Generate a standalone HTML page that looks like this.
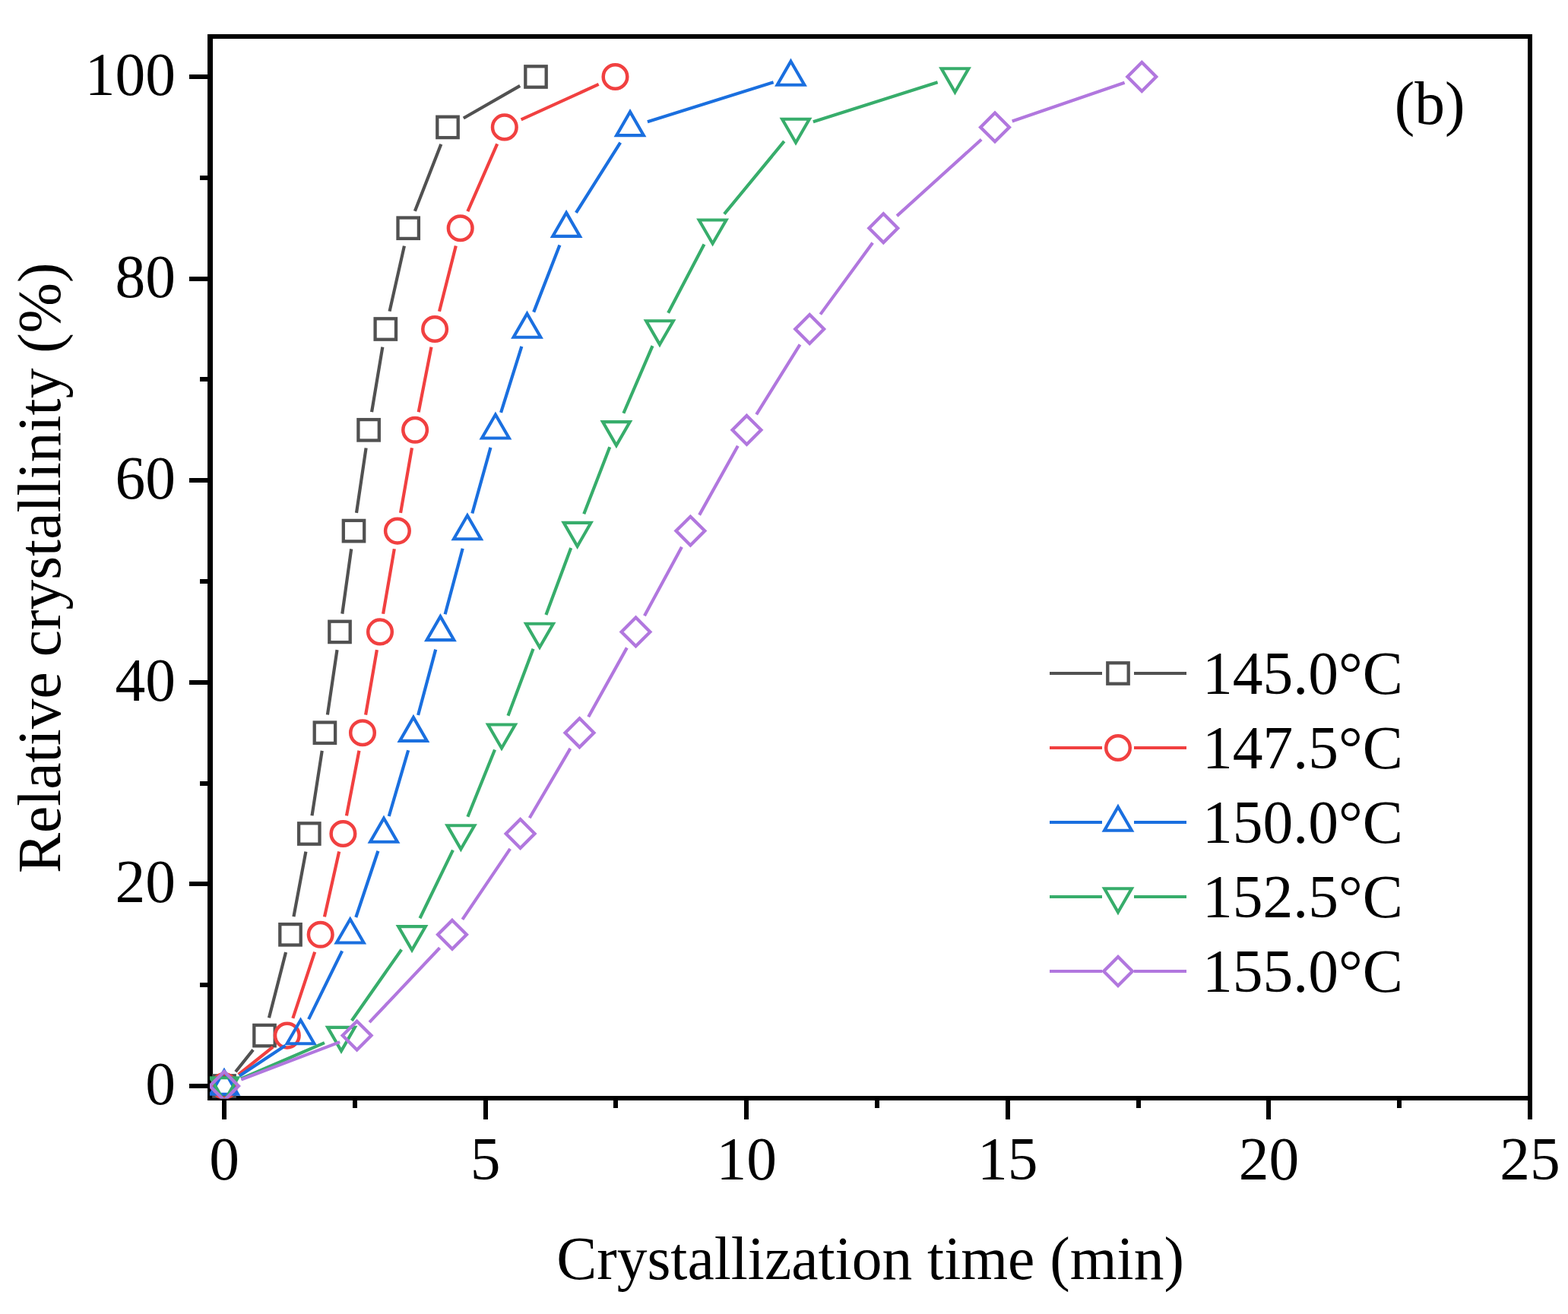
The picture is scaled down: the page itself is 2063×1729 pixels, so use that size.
<!DOCTYPE html>
<html><head><meta charset="utf-8"><title>Relative crystallinity vs crystallization time</title>
<style>
html,body{margin:0;padding:0;background:#fff;}
body{width:2063px;height:1729px;overflow:hidden;}
svg{display:block;}
text{font-family:"Liberation Serif","Times New Roman",serif;font-size:79.5px;fill:#000;}
</style></head><body>
<svg width="2063" height="1729" viewBox="0 0 2063 1729">
<rect width="2063" height="1729" fill="#fff"/>
<path d="M273 45H2016V51H273ZM273 1442H2016V1448H273ZM273 45H280V1448H273ZM2010 45H2016V1448H2010ZM249 1426H273V1432H249ZM263 1293H273V1299H263ZM249 1160H273V1166H249ZM263 1028H273V1034H263ZM249 895H273V901H249ZM263 762H273V768H263ZM249 629H273V635H249ZM263 496H273V502H263ZM249 364H273V370H249ZM263 231H273V237H263ZM249 98H273V104H249ZM292 1448H298V1473H292ZM464 1448H470V1458H464ZM636 1448H642V1473H636ZM807 1448H813V1458H807ZM979 1448H985V1473H979ZM1151 1448H1157V1458H1151ZM1323 1448H1329V1473H1323ZM1495 1448H1501V1458H1495ZM1666 1448H1672V1473H1666ZM1838 1448H1844V1458H1838ZM2010 1448H2016V1473H2010Z" fill="#000"/>
<defs><clipPath id="pc"><rect x="276" y="0" width="1760" height="1445.5"/></clipPath></defs><g clip-path="url(#pc)">
<path d="M309.97 1410.24L333.03 1381.36M353.95 1339.35L376.05 1253.05M386.41 1206.21L402.39 1120.59M410.48 1073.28L423.72 987.92M430.90 940.46L443.50 855.14M450.31 807.63L462.19 722.37M469.00 674.86L481.60 589.54M489.06 542.13L503.34 456.67M512.57 409.59L531.93 323.61M545.92 277.84L580.28 189.76M609.83 155.48L684.17 112.92" fill="none" stroke="#515151" stroke-width="4.2"/>
<g><rect x="281.30" y="1415.30" width="27.40" height="27.40" fill="none" stroke="#515151" stroke-width="4.3" stroke-linejoin="miter"/><rect x="334.30" y="1348.90" width="27.40" height="27.40" fill="none" stroke="#515151" stroke-width="4.3" stroke-linejoin="miter"/><rect x="368.30" y="1216.10" width="27.40" height="27.40" fill="none" stroke="#515151" stroke-width="4.3" stroke-linejoin="miter"/><rect x="393.10" y="1083.30" width="27.40" height="27.40" fill="none" stroke="#515151" stroke-width="4.3" stroke-linejoin="miter"/><rect x="413.70" y="950.50" width="27.40" height="27.40" fill="none" stroke="#515151" stroke-width="4.3" stroke-linejoin="miter"/><rect x="433.30" y="817.70" width="27.40" height="27.40" fill="none" stroke="#515151" stroke-width="4.3" stroke-linejoin="miter"/><rect x="451.80" y="684.90" width="27.40" height="27.40" fill="none" stroke="#515151" stroke-width="4.3" stroke-linejoin="miter"/><rect x="471.40" y="552.10" width="27.40" height="27.40" fill="none" stroke="#515151" stroke-width="4.3" stroke-linejoin="miter"/><rect x="493.60" y="419.30" width="27.40" height="27.40" fill="none" stroke="#515151" stroke-width="4.3" stroke-linejoin="miter"/><rect x="523.50" y="286.50" width="27.40" height="27.40" fill="none" stroke="#515151" stroke-width="4.3" stroke-linejoin="miter"/><rect x="575.30" y="153.70" width="27.40" height="27.40" fill="none" stroke="#515151" stroke-width="4.3" stroke-linejoin="miter"/><rect x="691.30" y="87.30" width="27.40" height="27.40" fill="none" stroke="#515151" stroke-width="4.3" stroke-linejoin="miter"/></g>
<path d="M313.72 1413.99L359.08 1377.61M385.33 1339.81L414.17 1252.59M426.94 1206.38L446.16 1120.42M455.94 1073.43L472.46 987.77M481.10 940.55L495.90 855.05M504.08 807.75L518.82 722.25M527.03 674.96L541.97 589.44M550.71 542.25L567.49 456.55M577.99 409.73L599.81 323.47M615.32 278.21L654.18 189.39M685.64 157.45L787.66 110.95" fill="none" stroke="#F14040" stroke-width="4.2"/>
<g><circle cx="295.00" cy="1429.00" r="15.8" fill="none" stroke="#F14040" stroke-width="4.5"/><circle cx="377.80" cy="1362.60" r="15.8" fill="none" stroke="#F14040" stroke-width="4.5"/><circle cx="421.70" cy="1229.80" r="15.8" fill="none" stroke="#F14040" stroke-width="4.5"/><circle cx="451.40" cy="1097.00" r="15.8" fill="none" stroke="#F14040" stroke-width="4.5"/><circle cx="477.00" cy="964.20" r="15.8" fill="none" stroke="#F14040" stroke-width="4.5"/><circle cx="500.00" cy="831.40" r="15.8" fill="none" stroke="#F14040" stroke-width="4.5"/><circle cx="522.90" cy="698.60" r="15.8" fill="none" stroke="#F14040" stroke-width="4.5"/><circle cx="546.10" cy="565.80" r="15.8" fill="none" stroke="#F14040" stroke-width="4.5"/><circle cx="572.10" cy="433.00" r="15.8" fill="none" stroke="#F14040" stroke-width="4.5"/><circle cx="605.70" cy="300.20" r="15.8" fill="none" stroke="#F14040" stroke-width="4.5"/><circle cx="663.80" cy="167.40" r="15.8" fill="none" stroke="#F14040" stroke-width="4.5"/><circle cx="809.50" cy="101.00" r="15.8" fill="none" stroke="#F14040" stroke-width="4.5"/></g>
<path d="M315.02 1415.77L375.48 1375.83M406.08 1341.06L450.12 1251.34M468.29 1207.03L497.41 1119.77M511.75 1073.97L537.15 987.23M550.10 941.01L573.20 854.59M585.60 808.21L608.70 721.79M621.34 675.48L645.46 588.92M659.07 542.90L686.33 455.90M702.19 410.63L736.41 322.57M757.92 279.91L816.18 187.69M851.90 160.21L1017.60 108.19" fill="none" stroke="#1A6FDF" stroke-width="4.2"/>
<g><path d="M295.00 1408.70L312.90 1439.70L277.10 1439.70Z" fill="none" stroke="#1A6FDF" stroke-width="4.1" stroke-linejoin="miter" stroke-miterlimit="3"/><path d="M395.50 1342.30L413.40 1373.30L377.60 1373.30Z" fill="none" stroke="#1A6FDF" stroke-width="4.1" stroke-linejoin="miter" stroke-miterlimit="3"/><path d="M460.70 1209.50L478.60 1240.50L442.80 1240.50Z" fill="none" stroke="#1A6FDF" stroke-width="4.1" stroke-linejoin="miter" stroke-miterlimit="3"/><path d="M505.00 1076.70L522.90 1107.70L487.10 1107.70Z" fill="none" stroke="#1A6FDF" stroke-width="4.1" stroke-linejoin="miter" stroke-miterlimit="3"/><path d="M543.90 943.90L561.80 974.90L526.00 974.90Z" fill="none" stroke="#1A6FDF" stroke-width="4.1" stroke-linejoin="miter" stroke-miterlimit="3"/><path d="M579.40 811.10L597.30 842.10L561.50 842.10Z" fill="none" stroke="#1A6FDF" stroke-width="4.1" stroke-linejoin="miter" stroke-miterlimit="3"/><path d="M614.90 678.30L632.80 709.30L597.00 709.30Z" fill="none" stroke="#1A6FDF" stroke-width="4.1" stroke-linejoin="miter" stroke-miterlimit="3"/><path d="M651.90 545.50L669.80 576.50L634.00 576.50Z" fill="none" stroke="#1A6FDF" stroke-width="4.1" stroke-linejoin="miter" stroke-miterlimit="3"/><path d="M693.50 412.70L711.40 443.70L675.60 443.70Z" fill="none" stroke="#1A6FDF" stroke-width="4.1" stroke-linejoin="miter" stroke-miterlimit="3"/><path d="M745.10 279.90L763.00 310.90L727.20 310.90Z" fill="none" stroke="#1A6FDF" stroke-width="4.1" stroke-linejoin="miter" stroke-miterlimit="3"/><path d="M829.00 147.10L846.90 178.10L811.10 178.10Z" fill="none" stroke="#1A6FDF" stroke-width="4.1" stroke-linejoin="miter" stroke-miterlimit="3"/><path d="M1040.50 80.70L1058.40 111.70L1022.60 111.70Z" fill="none" stroke="#1A6FDF" stroke-width="4.1" stroke-linejoin="miter" stroke-miterlimit="3"/></g>
<path d="M317.04 1419.50L426.96 1372.10M462.77 1342.94L528.23 1249.46M552.47 1208.21L595.93 1118.59M615.38 1074.74L651.02 986.46M668.46 941.74L701.54 853.86M718.40 808.92L751.20 721.08M768.25 676.21L802.25 588.19M820.38 543.75L858.52 455.05M879.14 411.74L926.46 321.46M952.86 281.68L1031.74 185.92M1069.88 160.15L1233.62 108.25" fill="none" stroke="#37AD6B" stroke-width="4.2"/>
<g><path d="M295.00 1449.30L312.90 1418.30L277.10 1418.30Z" fill="none" stroke="#37AD6B" stroke-width="4.1" stroke-linejoin="miter" stroke-miterlimit="3"/><path d="M449.00 1382.90L466.90 1351.90L431.10 1351.90Z" fill="none" stroke="#37AD6B" stroke-width="4.1" stroke-linejoin="miter" stroke-miterlimit="3"/><path d="M542.00 1250.10L559.90 1219.10L524.10 1219.10Z" fill="none" stroke="#37AD6B" stroke-width="4.1" stroke-linejoin="miter" stroke-miterlimit="3"/><path d="M606.40 1117.30L624.30 1086.30L588.50 1086.30Z" fill="none" stroke="#37AD6B" stroke-width="4.1" stroke-linejoin="miter" stroke-miterlimit="3"/><path d="M660.00 984.50L677.90 953.50L642.10 953.50Z" fill="none" stroke="#37AD6B" stroke-width="4.1" stroke-linejoin="miter" stroke-miterlimit="3"/><path d="M710.00 851.70L727.90 820.70L692.10 820.70Z" fill="none" stroke="#37AD6B" stroke-width="4.1" stroke-linejoin="miter" stroke-miterlimit="3"/><path d="M759.60 718.90L777.50 687.90L741.70 687.90Z" fill="none" stroke="#37AD6B" stroke-width="4.1" stroke-linejoin="miter" stroke-miterlimit="3"/><path d="M810.90 586.10L828.80 555.10L793.00 555.10Z" fill="none" stroke="#37AD6B" stroke-width="4.1" stroke-linejoin="miter" stroke-miterlimit="3"/><path d="M868.00 453.30L885.90 422.30L850.10 422.30Z" fill="none" stroke="#37AD6B" stroke-width="4.1" stroke-linejoin="miter" stroke-miterlimit="3"/><path d="M937.60 320.50L955.50 289.50L919.70 289.50Z" fill="none" stroke="#37AD6B" stroke-width="4.1" stroke-linejoin="miter" stroke-miterlimit="3"/><path d="M1047.00 187.70L1064.90 156.70L1029.10 156.70Z" fill="none" stroke="#37AD6B" stroke-width="4.1" stroke-linejoin="miter" stroke-miterlimit="3"/><path d="M1256.50 121.30L1274.40 90.30L1238.60 90.30Z" fill="none" stroke="#37AD6B" stroke-width="4.1" stroke-linejoin="miter" stroke-miterlimit="3"/></g>
<path d="M317.43 1420.47L447.17 1371.13M486.08 1345.15L578.52 1247.25M608.42 1209.90L671.18 1116.90M696.74 1076.30L750.36 984.90M774.18 943.24L824.82 852.36M847.93 810.29L896.97 719.71M920.09 677.64L970.81 586.76M995.19 545.43L1052.51 453.37M1079.37 413.63L1148.13 319.57M1180.09 284.09L1291.21 183.51M1331.70 159.60L1479.60 108.80" fill="none" stroke="#B177DE" stroke-width="4.2"/>
<g><path d="M295.00 1410.10L313.90 1429.00L295.00 1447.90L276.10 1429.00Z" fill="none" stroke="#B177DE" stroke-width="4.3" stroke-linejoin="miter" stroke-miterlimit="3"/><path d="M469.60 1343.70L488.50 1362.60L469.60 1381.50L450.70 1362.60Z" fill="none" stroke="#B177DE" stroke-width="4.3" stroke-linejoin="miter" stroke-miterlimit="3"/><path d="M595.00 1210.90L613.90 1229.80L595.00 1248.70L576.10 1229.80Z" fill="none" stroke="#B177DE" stroke-width="4.3" stroke-linejoin="miter" stroke-miterlimit="3"/><path d="M684.60 1078.10L703.50 1097.00L684.60 1115.90L665.70 1097.00Z" fill="none" stroke="#B177DE" stroke-width="4.3" stroke-linejoin="miter" stroke-miterlimit="3"/><path d="M762.50 945.30L781.40 964.20L762.50 983.10L743.60 964.20Z" fill="none" stroke="#B177DE" stroke-width="4.3" stroke-linejoin="miter" stroke-miterlimit="3"/><path d="M836.50 812.50L855.40 831.40L836.50 850.30L817.60 831.40Z" fill="none" stroke="#B177DE" stroke-width="4.3" stroke-linejoin="miter" stroke-miterlimit="3"/><path d="M908.40 679.70L927.30 698.60L908.40 717.50L889.50 698.60Z" fill="none" stroke="#B177DE" stroke-width="4.3" stroke-linejoin="miter" stroke-miterlimit="3"/><path d="M982.50 546.90L1001.40 565.80L982.50 584.70L963.60 565.80Z" fill="none" stroke="#B177DE" stroke-width="4.3" stroke-linejoin="miter" stroke-miterlimit="3"/><path d="M1065.20 414.10L1084.10 433.00L1065.20 451.90L1046.30 433.00Z" fill="none" stroke="#B177DE" stroke-width="4.3" stroke-linejoin="miter" stroke-miterlimit="3"/><path d="M1162.30 281.30L1181.20 300.20L1162.30 319.10L1143.40 300.20Z" fill="none" stroke="#B177DE" stroke-width="4.3" stroke-linejoin="miter" stroke-miterlimit="3"/><path d="M1309.00 148.50L1327.90 167.40L1309.00 186.30L1290.10 167.40Z" fill="none" stroke="#B177DE" stroke-width="4.3" stroke-linejoin="miter" stroke-miterlimit="3"/><path d="M1502.30 82.10L1521.20 101.00L1502.30 119.90L1483.40 101.00Z" fill="none" stroke="#B177DE" stroke-width="4.3" stroke-linejoin="miter" stroke-miterlimit="3"/></g>
</g>
<text x="231" y="1453.0" text-anchor="end">0</text>
<text x="231" y="1187.4" text-anchor="end">20</text>
<text x="231" y="921.8" text-anchor="end">40</text>
<text x="231" y="656.2" text-anchor="end">60</text>
<text x="231" y="390.6" text-anchor="end">80</text>
<text x="231" y="125.0" text-anchor="end">100</text>
<text x="295.00" y="1552" text-anchor="middle">0</text>
<text x="638.60" y="1552" text-anchor="middle">5</text>
<text x="982.20" y="1552" text-anchor="middle">10</text>
<text x="1325.80" y="1552" text-anchor="middle">15</text>
<text x="1669.40" y="1552" text-anchor="middle">20</text>
<text x="2013.00" y="1552" text-anchor="middle">25</text>
<text x="1145" y="1683" text-anchor="middle">Crystallization time (min)</text>
<text transform="translate(79 747.3) rotate(-90)" text-anchor="middle">Relative crystallinity (%)</text>
<text x="1834.8" y="162.5">(b)</text>
<path d="M1381 886H1450M1492 886H1561" stroke="#515151" stroke-width="4.2" fill="none"/>
<rect x="1457.30" y="872.30" width="27.40" height="27.40" fill="none" stroke="#515151" stroke-width="4.3" stroke-linejoin="miter"/>
<text x="1582" y="913">145.0°C</text>
<path d="M1381 984H1450M1492 984H1561" stroke="#F14040" stroke-width="4.2" fill="none"/>
<circle cx="1471.00" cy="984.00" r="15.8" fill="none" stroke="#F14040" stroke-width="4.5"/>
<text x="1582" y="1011">147.5°C</text>
<path d="M1381 1082H1450M1492 1082H1561" stroke="#1A6FDF" stroke-width="4.2" fill="none"/>
<path d="M1471.00 1061.70L1488.90 1092.70L1453.10 1092.70Z" fill="none" stroke="#1A6FDF" stroke-width="4.1" stroke-linejoin="miter" stroke-miterlimit="3"/>
<text x="1582" y="1109">150.0°C</text>
<path d="M1381 1180H1450M1492 1180H1561" stroke="#37AD6B" stroke-width="4.2" fill="none"/>
<path d="M1471.00 1200.30L1488.90 1169.30L1453.10 1169.30Z" fill="none" stroke="#37AD6B" stroke-width="4.1" stroke-linejoin="miter" stroke-miterlimit="3"/>
<text x="1582" y="1207">152.5°C</text>
<path d="M1381 1278H1450M1492 1278H1561" stroke="#B177DE" stroke-width="4.2" fill="none"/>
<path d="M1471.00 1259.10L1489.90 1278.00L1471.00 1296.90L1452.10 1278.00Z" fill="none" stroke="#B177DE" stroke-width="4.3" stroke-linejoin="miter" stroke-miterlimit="3"/>
<text x="1582" y="1305">155.0°C</text>
</svg></body></html>
